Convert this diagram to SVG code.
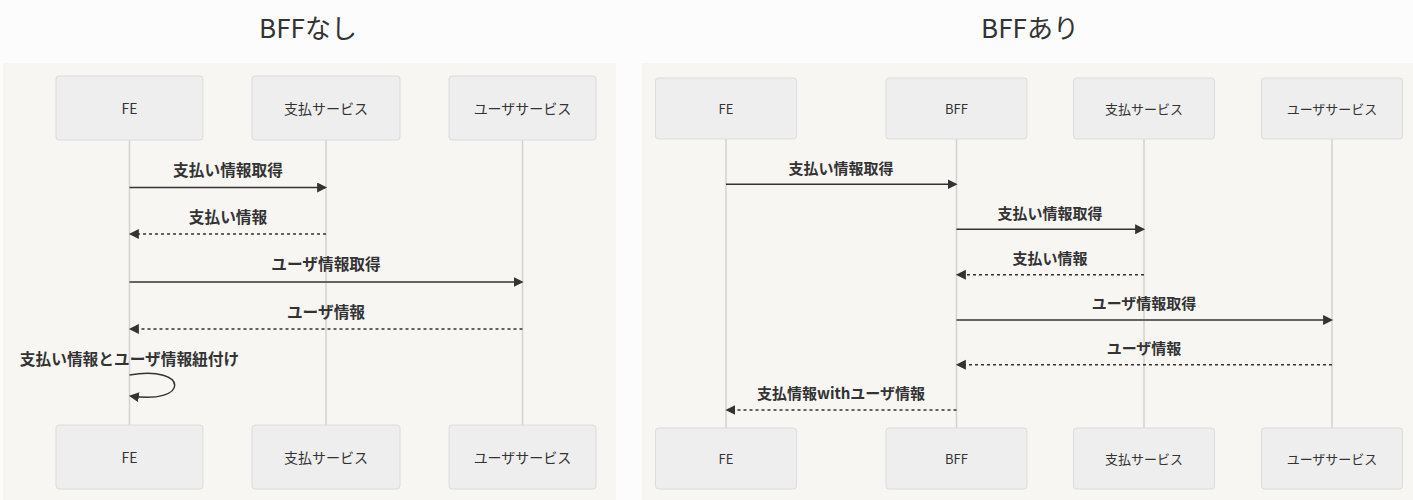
<svg xmlns="http://www.w3.org/2000/svg" width="1413" height="500" viewBox="0 0 1413 500">
<defs>
<marker id="ah" refX="7.9" refY="5" markerUnits="userSpaceOnUse" markerWidth="12" markerHeight="12" orient="auto"><path d="M0 0 L10 5 L0 10 z" fill="#333"/></marker>
<style>
.title{font-family:"Noto Sans CJK JP","Noto Sans",sans-serif;font-size:26px;fill:#333;text-anchor:middle}
.box{fill:#eeeeee;stroke:#dcdcdc;stroke-width:1}
.at{font-family:"Noto Sans CJK JP","Noto Sans",sans-serif;font-size:14px;fill:#333;text-anchor:middle;dominant-baseline:central}
.at2{font-family:"Noto Sans CJK JP","Noto Sans",sans-serif;font-size:13px;fill:#333;text-anchor:middle;dominant-baseline:central}
.life{stroke:#d2d2d2;stroke-width:1.5;fill:none}
.msg{stroke:#333;stroke-width:1.5;fill:none;marker-end:url(#ah)}
.dash{stroke-dasharray:3,3}
.mt{font-family:"Noto Sans CJK JP","Noto Sans",sans-serif;font-size:15.7px;font-weight:bold;fill:#333;text-anchor:middle;dominant-baseline:central}
.mt2{font-family:"Noto Sans CJK JP","Noto Sans",sans-serif;font-size:15px;font-weight:bold;fill:#333;text-anchor:middle;dominant-baseline:central}
</style>
</defs>
<rect width="1413" height="500" fill="#fcfcfc"/>
<text class="title" x="308" y="38">BFFなし</text>
<text class="title" x="1030" y="38">BFFあり</text>
<rect x="3" y="63" width="613" height="437" fill="#f7f6f3"/>
<rect x="642" y="63" width="771" height="437" fill="#f7f6f3"/>

<g id="left-lifelines">
<line class="life" x1="129.5" y1="140" x2="129.5" y2="425"/>
<line class="life" x1="326" y1="140" x2="326" y2="425"/>
<line class="life" x1="522.5" y1="140" x2="522.5" y2="425"/>
</g>
<g id="L-FE"><rect class="box" x="56" y="76" width="147" height="64" rx="3"/><text class="at" x="129.5" y="108">FE</text></g>
<g id="L-PAY"><rect class="box" x="252" y="76" width="148" height="64" rx="3"/><text class="at" x="326" y="108">支払サービス</text></g>
<g id="L-USER"><rect class="box" x="449" y="76" width="147" height="64" rx="3"/><text class="at" x="522.5" y="108">ユーザサービス</text></g>
<g id="L-FE-b"><rect class="box" x="56" y="425" width="147" height="64" rx="3"/><text class="at" x="129.5" y="457">FE</text></g>
<g id="L-PAY-b"><rect class="box" x="252" y="425" width="148" height="64" rx="3"/><text class="at" x="326" y="457">支払サービス</text></g>
<g id="L-USER-b"><rect class="box" x="449" y="425" width="147" height="64" rx="3"/><text class="at" x="522.5" y="457">ユーザサービス</text></g>

<g id="L-connectors">
<line class="msg" x1="129.5" y1="187.5" x2="325" y2="187.5"/>
<text class="mt" x="228" y="169">支払い情報取得</text>
<line class="msg dash" x1="326" y1="234" x2="131" y2="234"/>
<text class="mt" x="228" y="216">支払い情報</text>
<line class="msg" x1="129.5" y1="282" x2="521.5" y2="282"/>
<text class="mt" x="326" y="263">ユーザ情報取得</text>
<line class="msg dash" x1="522.5" y1="329" x2="131" y2="329"/>
<text class="mt" x="326" y="311">ユーザ情報</text>
<text class="mt" x="129.5" y="358">支払い情報とユーザ情報紐付け</text>
<path class="msg" d="M129.5 375 C189.5 365 189.5 405 131 396"/>
</g>

<g id="right-lifelines">
<line class="life" x1="726" y1="139" x2="726" y2="428"/>
<line class="life" x1="956.5" y1="139" x2="956.5" y2="428"/>
<line class="life" x1="1144" y1="139" x2="1144" y2="428"/>
<line class="life" x1="1332" y1="139" x2="1332" y2="428"/>
</g>
<g id="R-FE"><rect class="box" x="655.5" y="78" width="141" height="61" rx="3"/><text class="at2" x="726" y="108.5">FE</text></g>
<g id="R-BFF"><rect class="box" x="886" y="78" width="141" height="61" rx="3"/><text class="at2" x="956.5" y="108.5">BFF</text></g>
<g id="R-PAY"><rect class="box" x="1073.5" y="78" width="141" height="61" rx="3"/><text class="at2" x="1144" y="108.5">支払サービス</text></g>
<g id="R-USER"><rect class="box" x="1261.5" y="78" width="141" height="61" rx="3"/><text class="at2" x="1332" y="108.5">ユーザサービス</text></g>
<g id="R-FE-b"><rect class="box" x="655.5" y="428" width="141" height="61" rx="3"/><text class="at2" x="726" y="458.5">FE</text></g>
<g id="R-BFF-b"><rect class="box" x="886" y="428" width="141" height="61" rx="3"/><text class="at2" x="956.5" y="458.5">BFF</text></g>
<g id="R-PAY-b"><rect class="box" x="1073.5" y="428" width="141" height="61" rx="3"/><text class="at2" x="1144" y="458.5">支払サービス</text></g>
<g id="R-USER-b"><rect class="box" x="1261.5" y="428" width="141" height="61" rx="3"/><text class="at2" x="1332" y="458.5">ユーザサービス</text></g>

<g id="R-connectors">
<line class="msg" x1="726" y1="184.3" x2="955.5" y2="184.3"/>
<text class="mt2" x="841" y="167">支払い情報取得</text>
<line class="msg" x1="956.5" y1="229.3" x2="1143" y2="229.3"/>
<text class="mt2" x="1050" y="212">支払い情報取得</text>
<line class="msg dash" x1="1144" y1="274.7" x2="958" y2="274.7"/>
<text class="mt2" x="1050" y="257">支払い情報</text>
<line class="msg" x1="956.5" y1="320" x2="1331" y2="320"/>
<text class="mt2" x="1144" y="302">ユーザ情報取得</text>
<line class="msg dash" x1="1332" y1="364.7" x2="958" y2="364.7"/>
<text class="mt2" x="1144" y="347">ユーザ情報</text>
<line class="msg dash" x1="956.5" y1="410" x2="727.5" y2="410"/>
<text class="mt2" x="841" y="392">支払情報withユーザ情報</text>
</g>
</svg>
